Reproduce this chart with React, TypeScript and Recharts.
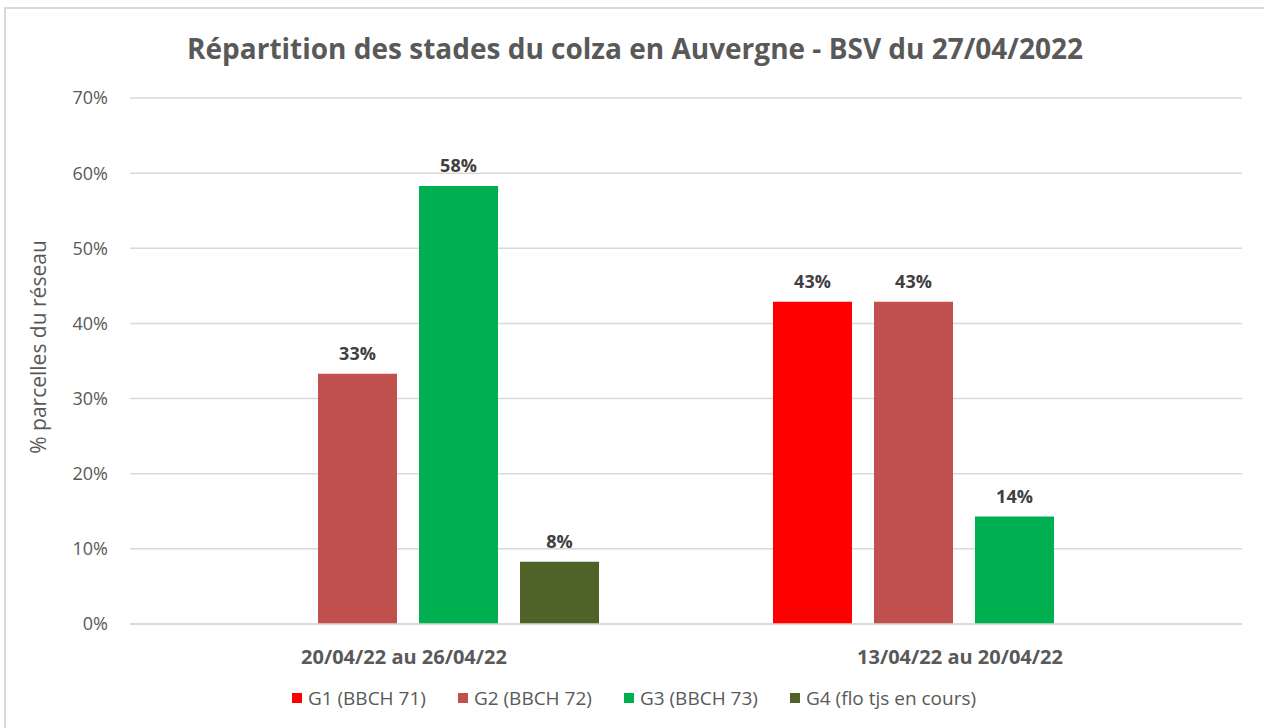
import React from 'react'
import { BarChart, Bar, XAxis, YAxis, CartesianGrid, Legend, LabelList } from 'recharts'

const periods = ['20/04/22 au 26/04/22', '13/04/22 au 20/04/22']
const seriesNames = ['G1 (BBCH 71)', 'G2 (BBCH 72)', 'G3 (BBCH 73)', 'G4 (flo tjs en cours)']
const seriesColors = ['#FF0000', '#C0504D', '#00B050', '#4F6228']
const g1Values: (number | null)[] = [null, 42.9]
const g2Values: (number | null)[] = [33.3, 42.9]
const g3Values: (number | null)[] = [58.3, 14.3]
const g4Values: (number | null)[] = [8.3, null]
const yTicks = [0, 10, 20, 30, 40, 50, 60, 70]

const seriesValues = [g1Values, g2Values, g3Values, g4Values]
const data = periods.map((name, i) => {
  const row: Record<string, string | number | null> = { name }
  seriesNames.forEach((s, k) => {
    row[s] = seriesValues[k][i]
  })
  return row
})

const FONT = '"Open Sans", sans-serif'
const GREY = '#595959'

const CategoryTick = ({ x, y, payload }: any) => (
  <text
    x={x - 4}
    y={y + 27}
    textAnchor="middle"
    dominantBaseline="middle"
    fontFamily={FONT}
    fontSize={20}
    fontWeight={700}
    fill={GREY}
  >
    {payload.value}
  </text>
)

const LegendContent = () => (
  <div
    style={{
      display: 'flex',
      justifyContent: 'center',
      alignItems: 'center',
      gap: 32,
      height: 40,
      fontFamily: FONT,
      fontSize: 19,
      color: GREY,
      paddingLeft: 26,
    }}
  >
    {seriesNames.map((s, k) => (
      <div key={s} style={{ display: 'flex', alignItems: 'center', gap: 6 }}>
        <span style={{ width: 10, height: 10, background: seriesColors[k], display: 'inline-block' }} />
        <span>{s}</span>
      </div>
    ))}
  </div>
)

const YLabel = ({ viewBox }: any) => {
  const cx = 40
  const cy = viewBox.y + viewBox.height / 2 - 14
  return (
    <text
      x={cx}
      y={cy}
      transform={`rotate(-90, ${cx}, ${cy})`}
      textAnchor="middle"
      dominantBaseline="middle"
      fontFamily={FONT}
      fontSize={21}
      fill={GREY}
    >
      % parcelles du réseau
    </text>
  )
}

export default function App() {
  return (
    <div style={{ position: 'absolute', left: 0, top: 0, width: 1264, height: 728, overflow: 'hidden', background: '#fff' }}>
      <div
        style={{
          position: 'absolute',
          left: 4,
          top: 7,
          width: 1400,
          height: 900,
          border: '2px solid #d9d9d9',
        }}
      />
      <div
        style={{
          position: 'absolute',
          left: 0,
          top: 29,
          width: 1270,
          textAlign: 'center',
          fontFamily: FONT,
          fontWeight: 700,
          fontSize: 28,
          color: GREY,
        }}
      >
        Répartition des stades du colza en Auvergne - BSV du 27/04/2022
      </div>
      <div style={{ position: 'absolute', left: 0, top: 0 }}>
        <BarChart
          width={1264}
          height={728}
          data={data}
          margin={{ top: 98, right: 22, left: 0, bottom: 10 }}
          barSize={79}
          barGap={22}
        >
          <CartesianGrid vertical={false} stroke="#d9d9d9" strokeWidth={1.5} />
          <XAxis
            dataKey="name"
            height={54}
            tickLine={false}
            axisLine={{ stroke: '#d9d9d9', strokeWidth: 1.5 }}
            tick={<CategoryTick />}
            interval={0}
          />
          <YAxis
            width={130}
            domain={[0, 70]}
            ticks={yTicks}
            tickLine={false}
            axisLine={false}
            tickMargin={16}
            tickFormatter={(v: number) => `${v}%`}
            tick={{ fontFamily: FONT, fontSize: 18, fill: GREY }}
            label={<YLabel />}
          />
          <Legend verticalAlign="bottom" height={40} content={<LegendContent />} />
          {seriesNames.map((s, k) => (
            <Bar key={s} dataKey={s} fill={seriesColors[k]} isAnimationActive={false}>
              <LabelList
                dataKey={s}
                position="top"
                offset={14}
                formatter={(v: any) => (v == null ? '' : `${Math.round(v)}%`)}
                style={{ fontFamily: FONT, fontSize: 18, fontWeight: 700, fill: '#404040' }}
              />
            </Bar>
          ))}
        </BarChart>
      </div>
    </div>
  )
}
